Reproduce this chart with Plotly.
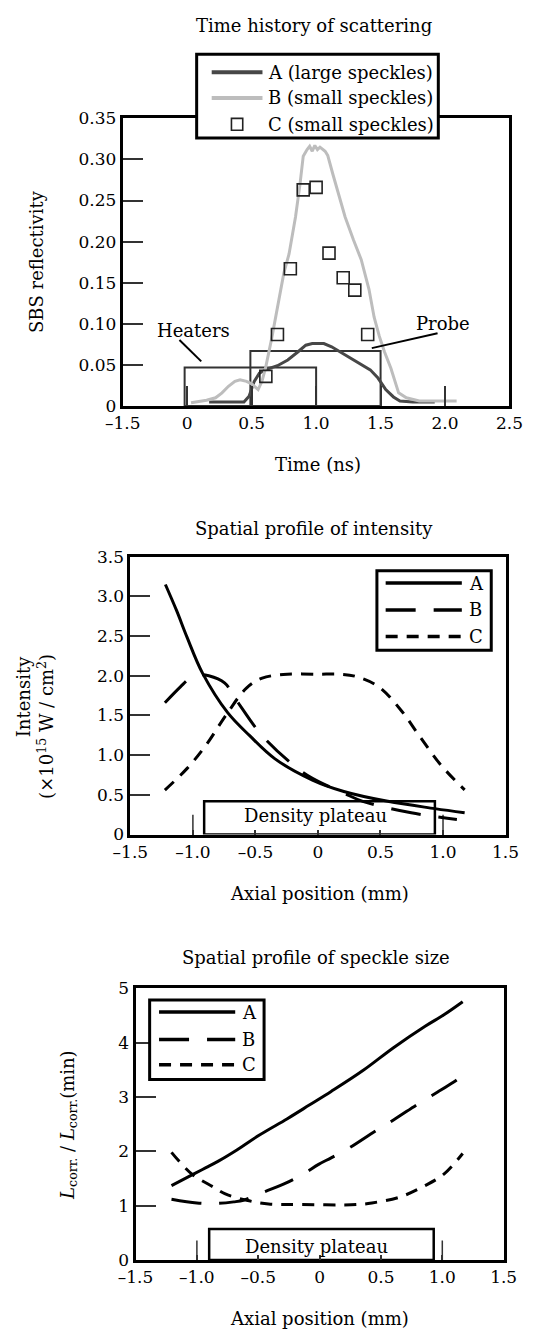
import plotly.graph_objects as go

W, H = 536, 1340
FONT = "DejaVu Serif"

# ---------------- data: chart 1 (time history) ----------------
time_A = [0.17, 0.30, 0.44, 0.48, 0.52, 0.56, 0.62, 0.70, 0.78, 0.86, 0.92, 0.97, 1.06, 1.12,
          1.22, 1.32, 1.42, 1.48, 1.54, 1.60, 1.65, 1.75, 1.92]
refl_A = [0.005, 0.005, 0.005, 0.012, 0.030, 0.040, 0.045, 0.049, 0.056, 0.066, 0.074, 0.076,
          0.076, 0.072, 0.063, 0.053, 0.044, 0.034, 0.020, 0.011, 0.006, 0.005, 0.005]
time_B = [0.03, 0.15, 0.22, 0.27, 0.32, 0.37, 0.41, 0.46, 0.50, 0.55, 0.58, 0.61, 0.655, 0.70,
          0.75, 0.79, 0.84, 0.875, 0.90, 0.93, 0.95, 0.97, 0.99, 1.01, 1.03, 1.07, 1.09, 1.13,
          1.18, 1.225, 1.29, 1.35, 1.41, 1.45, 1.49, 1.53, 1.58, 1.64, 1.70, 1.80, 2.09]
refl_B = [0.004, 0.007, 0.010, 0.016, 0.024, 0.030, 0.032, 0.030, 0.027, 0.020, 0.030, 0.048,
          0.082, 0.122, 0.162, 0.185, 0.230, 0.270, 0.304, 0.312, 0.316, 0.310, 0.317, 0.312,
          0.315, 0.310, 0.305, 0.282, 0.254, 0.230, 0.202, 0.178, 0.142, 0.108, 0.085, 0.066,
          0.046, 0.016, 0.010, 0.006, 0.006]
time_C = [0.61, 0.70, 0.80, 0.90, 1.00, 1.10, 1.21, 1.30, 1.40]
refl_C = [0.036, 0.087, 0.167, 0.263, 0.266, 0.186, 0.156, 0.141, 0.087]
# broken time axis: the first tick stands for -1.5 ns
time_tickvals = [-0.5, 0, 0.5, 1.0, 1.5, 2.0, 2.5]
time_ticktext = ["\u20131.5", "0", "0.5", "1.0", "1.5", "2.0", "2.5"]
refl_tickvals = [0, 0.05, 0.10, 0.15, 0.20, 0.25, 0.30, 0.35]
refl_ticktext = ["0", "0.05", "0.10", "0.15", "0.20", "0.25", "0.30", "0.35"]
heaters_window = [-0.02, 1.0, 0.0467]
probe_window = [0.49, 1.5, 0.067]

# ---------------- data: chart 2 (intensity) ----------------
pos_A2 = [-1.22, -1.13, -1.048, -0.922, -0.722, -0.546, -0.346, -0.044, 0.207, 0.558, 0.935, 1.173]
int_A2 = [3.15, 2.82, 2.49, 2.03, 1.535, 1.245, 0.956, 0.686, 0.542, 0.418, 0.326, 0.273]
pos_B2 = [-1.224, -1.10, -1.023, -0.95, -0.873, -0.747, -0.621, -0.446, -0.195, -0.044, 0.207,
          0.358, 0.746, 1.111]
int_B2 = [1.66, 1.86, 1.97, 2.01, 2.0, 1.91, 1.62, 1.245, 0.872, 0.707, 0.521, 0.418, 0.273, 0.19]
pos_C2 = [-1.224, -1.048, -0.898, -0.722, -0.572, -0.446, -0.245, 0.0, 0.181, 0.307, 0.483,
          0.659, 0.81, 0.985, 1.173]
int_C2 = [0.56, 0.83, 1.12, 1.535, 1.845, 1.97, 2.02, 2.02, 2.02, 1.99, 1.865, 1.576, 1.245,
          0.872, 0.562]
int_tickvals = [0, 0.5, 1.0, 1.5, 2.0, 2.5, 3.0, 3.5]
int_ticktext = ["0", "0.5", "1.0", "1.5", "2.0", "2.5", "3.0", "3.5"]
plateau2 = [-0.91, 0.935, 0.42]

# ---------------- data: chart 3 (speckle size) ----------------
pos_A3 = [-1.207, -1.028, -0.926, -0.825, -0.671, -0.49, -0.263, -0.084, 0.094, 0.35, 0.605,
          0.86, 1.013, 1.166]
size_A3 = [1.37, 1.58, 1.70, 1.82, 2.03, 2.30, 2.60, 2.85, 3.10, 3.48, 3.91, 4.30, 4.51, 4.75]
pos_B3 = [-1.207, -1.0, -0.85, -0.70, -0.62, -0.49, -0.29, -0.135, -0.008, 0.094, 0.247, 0.452,
          0.605, 0.809, 0.962, 1.09, 1.166]
size_B3 = [1.12, 1.05, 1.04, 1.07, 1.10, 1.22, 1.40, 1.58, 1.76, 1.88, 2.07, 2.37, 2.58, 2.88,
           3.09, 3.27, 3.39]
pos_C3 = [-1.207, -1.04, -0.863, -0.773, -0.595, -0.416, -0.16, 0.299, 0.426, 0.656, 0.86,
          1.013, 1.166]
size_C3 = [1.98, 1.58, 1.34, 1.22, 1.10, 1.03, 1.02, 1.02, 1.05, 1.16, 1.37, 1.58, 1.96]
size_tickvals = [0, 1, 2, 3, 4, 5]
size_ticktext = ["0", "1", "2", "3", "4", "5"]
plateau3 = [-0.90, 0.93, 0.57]

pos_tickvals = [-1.5, -1.0, -0.5, 0, 0.5, 1.0, 1.5]
pos_ticktext = ["\u20131.5", "\u20131.0", "\u20130.5", "0", "0.5", "1.0", "1.5"]

DASH_B = "30px,18px"
DASH_C = "12px,9px"


def PX(x):
    return x / W


def PY(y):
    return 1 - y / H


fig = go.Figure()

# chart 1 traces
fig.add_trace(go.Scatter(x=time_A, y=refl_A, mode="lines", xaxis="x", yaxis="y",
                         line=dict(color="#474747", width=3), showlegend=False))
fig.add_trace(go.Scatter(x=time_B, y=refl_B, mode="lines", xaxis="x", yaxis="y",
                         line=dict(color="#bdbdbd", width=3), showlegend=False))
fig.add_trace(go.Scatter(x=time_C, y=refl_C, mode="markers", xaxis="x", yaxis="y",
                         marker=dict(symbol="square-open", size=12, color="#222",
                                     line=dict(width=1.6, color="#222")),
                         showlegend=False))
# chart 2 traces
fig.add_trace(go.Scatter(x=pos_A2, y=int_A2, mode="lines", xaxis="x2", yaxis="y2",
                         line=dict(color="black", width=3, shape="spline"), showlegend=False))
fig.add_trace(go.Scatter(x=pos_B2, y=int_B2, mode="lines", xaxis="x2", yaxis="y2",
                         line=dict(color="black", width=3, shape="spline", dash=DASH_B),
                         showlegend=False))
fig.add_trace(go.Scatter(x=pos_C2, y=int_C2, mode="lines", xaxis="x2", yaxis="y2",
                         line=dict(color="black", width=3, shape="spline", dash=DASH_C),
                         showlegend=False))
# chart 3 traces
fig.add_trace(go.Scatter(x=pos_A3, y=size_A3, mode="lines", xaxis="x3", yaxis="y3",
                         line=dict(color="black", width=3, shape="spline"), showlegend=False))
fig.add_trace(go.Scatter(x=pos_B3, y=size_B3, mode="lines", xaxis="x3", yaxis="y3",
                         line=dict(color="black", width=3, shape="spline", dash=DASH_B),
                         showlegend=False))
fig.add_trace(go.Scatter(x=pos_C3, y=size_C3, mode="lines", xaxis="x3", yaxis="y3",
                         line=dict(color="black", width=3, shape="spline", dash=DASH_C),
                         showlegend=False))


def axis(domain, rng, tickvals, ticktext, anchor, ticklen):
    return dict(domain=domain, range=rng, anchor=anchor, tickmode="array",
                tickvals=tickvals, ticktext=ticktext, ticks="inside", ticklen=ticklen,
                tickwidth=1.5, tickcolor="#333", showline=True, mirror=True,
                linewidth=3, linecolor="black", showgrid=False, zeroline=False,
                tickfont=dict(family=FONT, size=17, color="black"), fixedrange=True)


layout = dict(
    width=W, height=H, autosize=False,
    margin=dict(l=0, r=0, t=0, b=0),
    paper_bgcolor="white", plot_bgcolor="white",
    showlegend=False,
    font=dict(family=FONT, size=18, color="black"),
    xaxis=axis([111.4 / W, 522.7 / W], [-0.5, 2.5], time_tickvals, time_ticktext, "y", 20),
    yaxis=axis([PY(402), PY(110)], [0, 0.35], refl_tickvals, refl_ticktext, "x", 20),
    xaxis2=axis([119.5 / W, 518.5 / W], [-1.5, 1.5], pos_tickvals, pos_ticktext, "y2", 5),
    yaxis2=axis([PY(837), PY(555)], [0, 3.5], int_tickvals, int_ticktext, "x2", 20),
    xaxis3=axis([125 / W, 516.5 / W], [-1.5, 1.5], pos_tickvals, pos_ticktext, "y3", 5),
    yaxis3=axis([PY(1269), PY(993)], [0, 5], size_tickvals, size_ticktext, "x3", 20),
)
fig.update_layout(**layout)

shapes = []
ann = []

# ---- chart 1 decorations ----
for (x0, x1, top) in [heaters_window, probe_window]:
    shapes.append(dict(type="rect", xref="x", yref="y", x0=x0, x1=x1, y0=0, y1=top,
                       line=dict(color="#333", width=2), layer="below"))
shapes.append(dict(type="line", xref="x", yref="y", x0=-0.060, y0=0.0803, x1=0.109, y1=0.0543,
                   line=dict(color="black", width=2)))
shapes.append(dict(type="line", xref="x", yref="y", x0=1.432, y0=0.0704, x1=1.942, y1=0.0884,
                   line=dict(color="black", width=2)))
ann.append(dict(text="Heaters", xref="paper", yref="paper", x=PX(186.7), y=PY(325),
                showarrow=False, xanchor="center", yanchor="middle", font=dict(size=18)))
ann.append(dict(text="Probe", xref="paper", yref="paper", x=PX(451.7), y=PY(318.3),
                showarrow=False, xanchor="center", yanchor="middle", font=dict(size=18)))

# legend 1
shapes.append(dict(type="rect", xref="paper", yref="paper", x0=PX(190), x1=PX(447),
                   y0=PY(130), y1=PY(45), line=dict(color="black", width=3),
                   fillcolor="white", layer="above"))
shapes.append(dict(type="line", xref="paper", yref="paper", x0=PX(206), x1=PX(260),
                   y0=PY(63.3), y1=PY(63.3), line=dict(color="#474747", width=4)))
shapes.append(dict(type="line", xref="paper", yref="paper", x0=PX(206), x1=PX(260),
                   y0=PY(89.3), y1=PY(89.3), line=dict(color="#bdbdbd", width=4)))
shapes.append(dict(type="rect", xref="paper", yref="paper", x0=PX(227), x1=PX(239),
                   y0=PY(122), y1=PY(110), line=dict(color="#222", width=1.6)))
for txt, yy in [("A (large speckles)", 63.3), ("B (small speckles)", 89.3),
                ("C (small speckles)", 116)]:
    ann.append(dict(text=txt, xref="paper", yref="paper", x=PX(264), y=PY(yy),
                    showarrow=False, xanchor="left", yanchor="middle", font=dict(size=18)))

# titles chart 1
ann.append(dict(text="Time history of scattering", xref="paper", yref="paper",
                x=PX(315), y=PY(16), showarrow=False, xanchor="center", yanchor="middle"))
ann.append(dict(text="Time (ns)", xref="paper", yref="paper", x=PX(319), y=PY(461),
                showarrow=False, xanchor="center", yanchor="middle"))
ann.append(dict(text="SBS reflectivity", xref="paper", yref="paper", x=PX(19), y=PY(255),
                showarrow=False, xanchor="center", yanchor="middle", textangle=-90))

# ---- chart 2 / 3 decorations ----
for xa, ya, (x0, x1, top), tick_h in [("x2", "y2", plateau2, 0.25),
                                      ("x3", "y3", plateau3, 0.36)]:
    shapes.append(dict(type="rect", xref=xa, yref=ya, x0=x0, x1=x1, y0=0, y1=top,
                       line=dict(color="black", width=2.5), layer="below"))
    for tx in [-1.0, 1.0]:
        shapes.append(dict(type="line", xref=xa, yref=ya, x0=tx, x1=tx, y0=0, y1=tick_h,
                           line=dict(color="#333", width=1.5), layer="below"))

ann.append(dict(text="Density plateau", xref="paper", yref="paper", x=PX(316.7), y=PY(818),
                showarrow=False, xanchor="center", yanchor="middle", font=dict(size=18)))
ann.append(dict(text="Density plateau", xref="paper", yref="paper", x=PX(317.5), y=PY(1255),
                showarrow=False, xanchor="center", yanchor="middle", font=dict(size=18)))


def line_legend(x0, x1, y0, y1, lx0, lx1, rows, tx):
    shapes.append(dict(type="rect", xref="paper", yref="paper", x0=PX(x0), x1=PX(x1),
                       y0=PY(y1), y1=PY(y0), line=dict(color="black", width=3),
                       fillcolor="white", layer="above"))
    for (name, dash), yy in zip([("A", "solid"), ("B", DASH_B), ("C", DASH_C)], rows):
        shapes.append(dict(type="line", xref="paper", yref="paper", x0=PX(lx0), x1=PX(lx1),
                           y0=PY(yy), y1=PY(yy), line=dict(color="black", width=3.5, dash=dash)))
        ann.append(dict(text=name, xref="paper", yref="paper", x=PX(tx), y=PY(yy),
                        showarrow=False, xanchor="left", yanchor="middle", font=dict(size=18)))


line_legend(381.7, 503.3, 569.3, 650, 391, 472, [581.7, 609, 636], 478)
line_legend(140, 261.7, 1005, 1085.7, 150, 231, [1017.3, 1045, 1070.7], 236)

ann.append(dict(text="Spatial profile of intensity", xref="paper", yref="paper",
                x=PX(315), y=PY(526), showarrow=False, xanchor="center", yanchor="middle"))
ann.append(dict(text="Axial position (mm)", xref="paper", yref="paper", x=PX(321), y=PY(897),
                showarrow=False, xanchor="center", yanchor="middle"))
ann.append(dict(text="Intensity", xref="paper", yref="paper", x=PX(6), y=PY(697),
                showarrow=False, xanchor="center", yanchor="middle", textangle=-90))
ann.append(dict(text="(\u00d710<sup>15</sup> W / cm<sup>2</sup>)", xref="paper", yref="paper",
                x=PX(29.5), y=PY(727), showarrow=False, xanchor="center", yanchor="middle",
                textangle=-90))

ann.append(dict(text="Spatial profile of speckle size", xref="paper", yref="paper",
                x=PX(316.7), y=PY(962), showarrow=False, xanchor="center", yanchor="middle"))
ann.append(dict(text="Axial position (mm)", xref="paper", yref="paper", x=PX(321), y=PY(1328),
                showarrow=False, xanchor="center", yanchor="middle"))
ann.append(dict(text="<i>L</i><sub>corr.</sub> / <i>L</i><sub>corr.</sub>(min)",
                xref="paper", yref="paper", x=PX(54), y=PY(1132), showarrow=False,
                xanchor="center", yanchor="middle", textangle=-90))

fig.update_layout(shapes=shapes, annotations=ann)
fig.write_html("out.html")
